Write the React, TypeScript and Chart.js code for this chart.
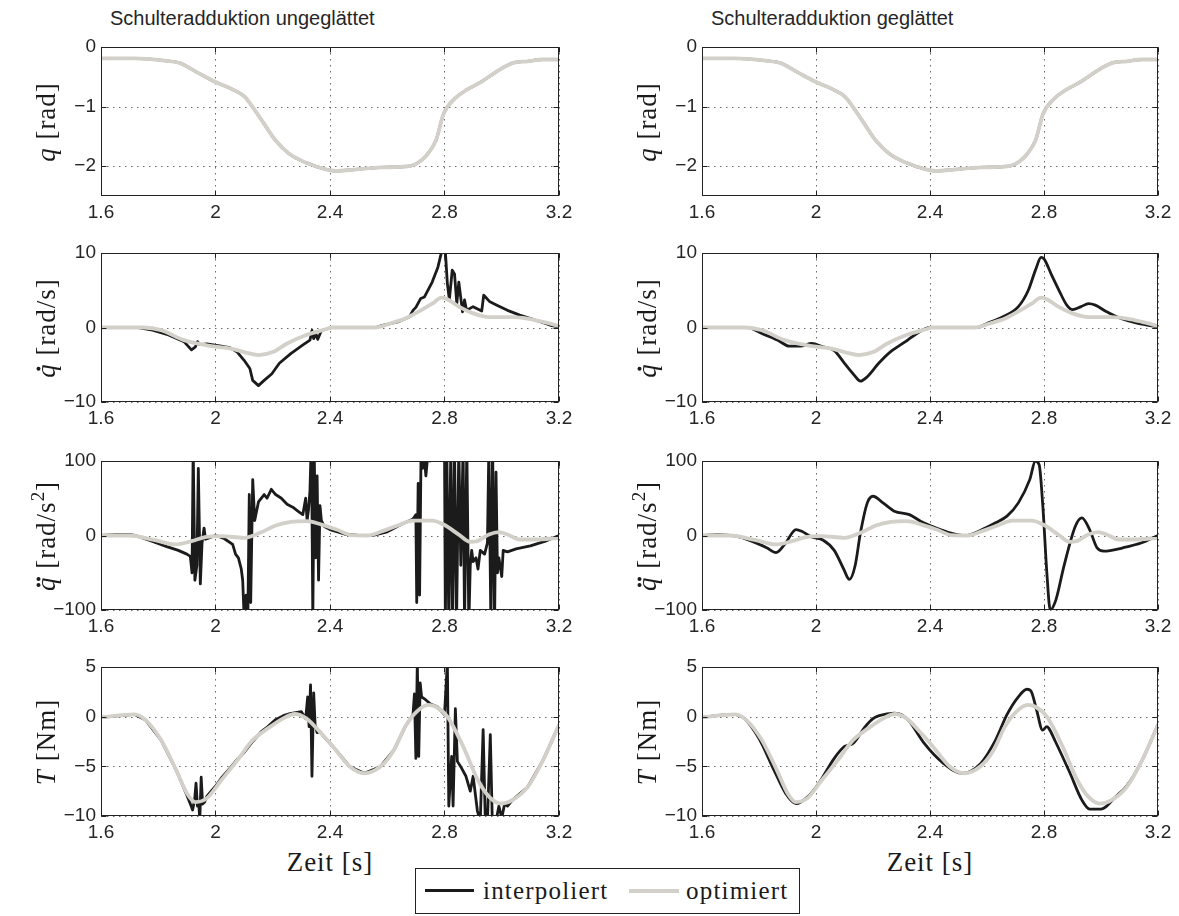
import React, { useEffect, useRef } from "react";
import { Chart, registerables } from "chart.js";

Chart.register(...registerables);

// ---------------- data ----------------
const X_TICKS = [1.6, 2, 2.4, 2.8, 3.2];
const Q_TICKS = [-2, -1, 0];
const DQ_TICKS = [-10, 0, 10];
const DDQ_TICKS = [-100, 0, 100];
const T_TICKS = [-10, -5, 0, 5];

const TITLES = ["Schulteradduktion ungeglättet", "Schulteradduktion geglättet"];
const LEGEND_LABELS = ["interpoliert", "optimiert"];
const X_LABEL = "Zeit [s]";

// joint angle q (both panels, both series coincide)
const Q_T = [1.6, 1.716, 1.823, 1.876, 1.93, 1.996, 2.063, 2.103, 2.13, 2.17, 2.21, 2.26, 2.316, 2.383, 2.42, 2.477, 2.58, 2.677, 2.717, 2.74, 2.77, 2.797, 2.837, 2.877, 2.93, 2.983, 3.037, 3.09, 3.144, 3.2];
const Q_VAL = [-0.19, -0.19, -0.23, -0.27, -0.41, -0.58, -0.72, -0.84, -1.01, -1.29, -1.57, -1.8, -1.94, -2.05, -2.08, -2.06, -2.02, -2.0, -1.91, -1.8, -1.57, -1.12, -0.86, -0.72, -0.58, -0.41, -0.27, -0.24, -0.21, -0.21];

// velocity, optimiert
const DQ_OPT_T = [1.6, 1.75, 1.81, 1.89, 1.97, 2.05, 2.1, 2.15, 2.2, 2.25, 2.317, 2.383, 2.41, 2.557, 2.61, 2.663, 2.717, 2.757, 2.79, 2.81, 2.85, 2.9, 2.957, 3.037, 3.09, 3.144, 3.2];
const DQ_OPT = [0, 0, -0.36, -1.7, -2.4, -2.8, -3.3, -3.7, -3.3, -2.15, -1.0, -0.27, 0, 0, 0.54, 1.2, 2.3, 3.2, 4.0, 3.8, 2.8, 1.9, 1.4, 1.4, 1.2, 0.76, 0.2];
// velocity, interpoliert (ungeglättet)
const DQ_RAW_T = [1.6, 1.73, 1.78, 1.836, 1.89, 1.916, 1.93, 1.937, 1.945, 1.97, 2.02, 2.05, 2.076, 2.1, 2.12, 2.13, 2.15, 2.17, 2.197, 2.223, 2.263, 2.303, 2.33, 2.337, 2.343, 2.35, 2.357, 2.37, 2.397, 2.41, 2.56, 2.583, 2.637, 2.677, 2.69, 2.7, 2.717, 2.73, 2.757, 2.777, 2.79, 2.8, 2.81, 2.817, 2.827, 2.835, 2.843, 2.85, 2.863, 2.87, 2.877, 2.9, 2.93, 2.937, 2.943, 2.957, 2.983, 3.02, 3.063, 3.117, 3.17, 3.2];
const DQ_RAW = [0, 0, -0.36, -1.0, -1.9, -3.0, -2.6, -1.9, -2.3, -2.2, -2.5, -2.7, -3.3, -4.4, -5.5, -7.1, -7.8, -7.1, -6.2, -4.8, -3.5, -2.4, -1.7, -0.4, -1.5, -0.8, -1.6, -0.4, -0.1, 0, 0, 0.3, 0.76, 1.4, 2.3, 2.7, 3.9, 4.1, 6.1, 8.1, 10.2, 12, 5.9, 3.7, 7.7, 7.2, 3.2, 6.1, 2.1, 3.7, 2.3, 2.8, 2.2, 4.35, 4.1, 3.5, 3.0, 2.3, 1.66, 1.0, 0.3, 0.1];
// velocity, interpoliert (geglättet)
const DQ_SM_T = [1.6, 1.76, 1.81, 1.866, 1.906, 1.945, 1.985, 2.024, 2.064, 2.1, 2.13, 2.156, 2.18, 2.22, 2.26, 2.314, 2.354, 2.4, 2.565, 2.6, 2.654, 2.71, 2.745, 2.77, 2.79, 2.8, 2.826, 2.85, 2.88, 2.9, 2.93, 2.956, 2.98, 3.02, 3.07, 3.13, 3.2];
const DQ_SM = [0, 0, -0.8, -1.7, -2.5, -2.5, -2.15, -2.6, -3.1, -4.8, -6.2, -7.2, -6.6, -4.8, -3.3, -1.9, -0.8, 0, 0, 0.54, 1.4, 2.8, 5.0, 7.7, 9.4, 9.2, 7.1, 5.2, 3.0, 2.4, 2.8, 3.2, 3.0, 2.1, 1.2, 0.54, 0.1];

// acceleration, optimiert
const DDQ_OPT_T = [1.6, 1.7, 1.78, 1.86, 1.916, 1.97, 2.02, 2.1, 2.156, 2.21, 2.263, 2.317, 2.37, 2.423, 2.477, 2.53, 2.583, 2.637, 2.69, 2.757, 2.797, 2.85, 2.89, 2.915, 2.955, 2.99, 3.02, 3.063, 3.117, 3.2];
const DDQ_OPT = [0, 0, -5.4, -12, -7.6, -1.8, -0.9, -3.1, 3.6, 13.4, 18.3, 19.2, 14.7, 8, 0.4, 0, 5.8, 13.4, 20, 20, 14.7, 1.3, -8.5, -7.5, 1.3, 4.5, 1.3, -5.4, -5.4, -3.1];
// acceleration, interpoliert (ungeglättet)
const DDQ_RAW_T = [1.6, 1.65, 1.7, 1.72, 1.78, 1.83, 1.87, 1.9, 1.912, 1.918, 1.922, 1.928, 1.935, 1.94, 1.947, 1.953, 1.96, 1.965, 1.98, 2.0, 2.03, 2.06, 2.07, 2.08, 2.09, 2.095, 2.1, 2.107, 2.113, 2.118, 2.123, 2.13, 2.137, 2.15, 2.17, 2.18, 2.195, 2.21, 2.23, 2.25, 2.27, 2.29, 2.305, 2.315, 2.32, 2.325, 2.33, 2.335, 2.34, 2.345, 2.35, 2.355, 2.36, 2.365, 2.37, 2.38, 2.4, 2.45, 2.5, 2.55, 2.6, 2.65, 2.69, 2.7, 2.703, 2.708, 2.713, 2.718, 2.723, 2.728, 2.735, 2.742, 2.75, 2.76, 2.775, 2.8, 2.803, 2.808, 2.815, 2.822, 2.828, 2.835, 2.842, 2.85, 2.857, 2.865, 2.87, 2.878, 2.885, 2.89, 2.895, 2.9, 2.91, 2.917, 2.925, 2.94, 2.95, 2.955, 2.962, 2.968, 2.975, 2.98, 2.985, 2.99, 3.0, 3.005, 3.02, 3.05, 3.1, 3.15, 3.2];
const DDQ_RAW = [0, 1.3, 1.0, 0, -8, -15, -20, -25, -28, -50, 120, -60, -40, 90, -65, -10, 10, -5, -3, 0, -4, -12, -25, -30, -45, -60, -110, -80, -110, 55, -90, 75, 20, 45, 55, 50, 62, 55, 50, 42, 38, 32, 28, 50, 20, 35, 60, 130, -110, 110, -30, 80, -60, 40, 20, 12, 8, 2, 0, 0, 5, 15, 22, 28, -90, 70, -80, 110, 90, 110, 80, 110, 100, 110, 105, 120, -120, 120, -120, 120, -120, 120, -120, 120, -40, 120, -120, 120, -120, -40, -20, -35, -30, -45, -20, -25, -10, 120, -120, 120, -120, 85, -50, -30, -55, -20, -22, -18, -14, -8, 0];
// acceleration, interpoliert (geglättet)
const DDQ_SM_T = [1.6, 1.655, 1.72, 1.774, 1.827, 1.86, 1.89, 1.93, 1.95, 1.985, 2.024, 2.064, 2.097, 2.117, 2.137, 2.156, 2.18, 2.2, 2.235, 2.275, 2.328, 2.367, 2.42, 2.47, 2.525, 2.578, 2.63, 2.67, 2.71, 2.75, 2.77, 2.783, 2.796, 2.81, 2.822, 2.842, 2.87, 2.91, 2.933, 2.96, 2.986, 3.01, 3.077, 3.143, 3.2];
const DDQ_SM = [0, 1.3, -1, -7.6, -16.5, -23, -12, 8, 5.8, -2, -6, -20, -45, -59, -41, 3.6, 43.8, 52.7, 43.8, 32.6, 28, 19.2, 10.3, 3.6, 0, 7, 17, 26, 43.8, 75, 100, 95, 39, -50, -100, -86, -41, 12.5, 23.7, 8, -16.5, -21, -16.5, -9.8, 0];

// torque, optimiert
const T_OPT_T = [1.6, 1.716, 1.756, 1.81, 1.863, 1.9, 1.93, 1.97, 2.02, 2.076, 2.13, 2.183, 2.237, 2.277, 2.317, 2.37, 2.41, 2.47, 2.52, 2.575, 2.623, 2.663, 2.703, 2.743, 2.77, 2.81, 2.863, 2.917, 2.957, 2.997, 3.037, 3.09, 3.144, 3.2];
const T_OPT = [-0.07, 0.24, -0.34, -2.36, -5.4, -7.7, -8.6, -8.2, -6.4, -4.4, -2.36, -1.18, -0.17, 0.27, -0.17, -1.7, -3.0, -5.05, -5.7, -5.05, -3.37, -1.0, 0.5, 1.18, 1.0, 0, -2.86, -6.4, -8.1, -8.75, -8.4, -7.1, -4.4, -0.84];
// torque, interpoliert (ungeglättet)
const T_RAW_T = [1.6, 1.716, 1.756, 1.81, 1.863, 1.9, 1.915, 1.92, 1.927, 1.932, 1.937, 1.942, 1.945, 1.95, 1.955, 1.962, 1.97, 2.0, 2.02, 2.05, 2.076, 2.1, 2.13, 2.16, 2.183, 2.21, 2.237, 2.26, 2.28, 2.3, 2.315, 2.322, 2.327, 2.332, 2.337, 2.343, 2.348, 2.355, 2.365, 2.375, 2.41, 2.47, 2.52, 2.575, 2.623, 2.663, 2.69, 2.695, 2.7, 2.705, 2.71, 2.715, 2.72, 2.73, 2.75, 2.775, 2.8, 2.81, 2.815, 2.825, 2.83, 2.838, 2.845, 2.86, 2.875, 2.89, 2.9, 2.915, 2.925, 2.935, 2.942, 2.95, 2.96, 2.967, 2.98, 2.99, 3.0, 3.01, 3.02, 3.037, 3.09, 3.144, 3.2];
const T_RAW = [-0.07, 0.24, -0.34, -2.36, -5.4, -7.9, -9.0, -9.4, -8.4, -6.7, -9.0, -8.8, -10.5, -6.1, -8.8, -8.6, -8.0, -7.0, -6.2, -5.2, -4.3, -3.6, -2.5, -1.5, -1.0, -0.3, 0.1, 0.3, 0.4, 0.5, -0.2, 2.0, -1.0, 3.2, -6.0, 2.4, -0.8, -1.6, -1.5, -1.9, -3.0, -5.05, -5.7, -5.05, -3.37, -1.0, 0.2, 2.3, -4.2, 5.5, -4.0, 3.4, 2.0, 1.8, 1.3, 1.0, 0.2, 5.5, -9.0, -4.0, -9.0, 0.8, -4.5, -5.2, -6.0, -7.5, -6.0, -9.5, -10.5, -1.3, -9.8, -10.5, -1.8, -10.5, -10.5, -9.0, -10.2, -8.8, -9.0, -8.4, -7.1, -4.4, -0.84];
// torque, interpoliert (geglättet)
const T_SM_T = [1.6, 1.708, 1.748, 1.8, 1.853, 1.893, 1.93, 1.97, 2.01, 2.064, 2.1, 2.13, 2.17, 2.2, 2.222, 2.275, 2.3, 2.328, 2.38, 2.447, 2.512, 2.578, 2.63, 2.67, 2.71, 2.74, 2.754, 2.774, 2.795, 2.81, 2.817, 2.84, 2.89, 2.933, 2.96, 3.0, 3.02, 3.05, 3.09, 3.144, 3.2];
const T_SM = [-0.07, 0.24, -0.17, -2.2, -5.4, -7.7, -8.75, -8.1, -6.7, -4.2, -3.0, -2.7, -1.1, -0.2, 0.1, 0.35, 0.2, -0.5, -2.7, -4.7, -5.7, -4.7, -2.36, 0.2, 2.0, 2.76, 2.6, 0.67, -1.35, -1.0, -1.18, -2.5, -5.6, -8.4, -9.3, -9.3, -9.0, -8.1, -7.0, -4.4, -0.8];

// ---------------- styling / layout ----------------
const INT_COLOR = "#1b1b1b";
const OPT_COLOR = "#d3d0c9";
const TICK_FONT = '"Liberation Sans", Arial, Helvetica, sans-serif';
const LABEL_FONT = '"Liberation Serif", "Times New Roman", serif';

const COL_X = [101, 702];
const COL_W = [458, 456];
const ROW_Y = [47, 253, 461, 667];
const PLOT_H = 149;
const PAD_L = 60, PAD_T = 12, PAD_R = 20, PAD_B = 30;

const fmt = (v: number) => String(Number(v.toFixed(4))).replace("-", "\u2212");
const pts = (t: number[], v: number[]) => t.map((x, i) => ({ x, y: v[i] }));

const matlabAxes = {
  id: "matlabAxes",
  beforeDatasetsDraw(chart: any) {
    const { ctx, chartArea: a, scales } = chart;
    const x = scales.x, y = scales.y;
    ctx.save();
    ctx.strokeStyle = "rgba(70,70,70,0.8)";
    ctx.lineWidth = 1;
    ctx.setLineDash([1.5, 4.5]);
    ctx.beginPath();
    x.ticks.forEach((t: any) => {
      const px = Math.round(x.getPixelForValue(t.value)) + 0.5;
      ctx.moveTo(px, a.top);
      ctx.lineTo(px, a.bottom);
    });
    y.ticks.forEach((t: any) => {
      const py = Math.round(y.getPixelForValue(t.value)) + 0.5;
      ctx.moveTo(a.left, py);
      ctx.lineTo(a.right, py);
    });
    ctx.stroke();
    ctx.restore();
  },
  afterDraw(chart: any) {
    const { ctx, chartArea: a, scales } = chart;
    const x = scales.x, y = scales.y;
    const L = Math.round(a.left) + 0.5, R = Math.round(a.right) - 0.5;
    const T = Math.round(a.top) + 0.5, B = Math.round(a.bottom) - 0.5;
    ctx.save();
    ctx.strokeStyle = "#222";
    ctx.lineWidth = 1;
    ctx.setLineDash([]);
    ctx.strokeRect(L, T, R - L, B - T);
    ctx.beginPath();
    x.ticks.forEach((t: any) => {
      const px = Math.round(x.getPixelForValue(t.value)) + 0.5;
      ctx.moveTo(px, B); ctx.lineTo(px, B - 5);
      ctx.moveTo(px, T); ctx.lineTo(px, T + 5);
    });
    y.ticks.forEach((t: any) => {
      const py = Math.round(y.getPixelForValue(t.value)) + 0.5;
      ctx.moveTo(L, py); ctx.lineTo(L + 5, py);
      ctx.moveTo(R, py); ctx.lineTo(R - 5, py);
    });
    ctx.stroke();
    ctx.restore();
  },
};

type PanelDef = {
  row: number; col: number; yMin: number; yMax: number; yTicks: number[];
  optT: number[]; optV: number[]; intT: number[]; intV: number[]; raw: boolean;
};

const PANELS: PanelDef[] = [
  { row: 0, col: 0, yMin: -2.5, yMax: 0, yTicks: Q_TICKS, optT: Q_T, optV: Q_VAL, intT: Q_T, intV: Q_VAL, raw: false },
  { row: 0, col: 1, yMin: -2.5, yMax: 0, yTicks: Q_TICKS, optT: Q_T, optV: Q_VAL, intT: Q_T, intV: Q_VAL, raw: false },
  { row: 1, col: 0, yMin: -10, yMax: 10, yTicks: DQ_TICKS, optT: DQ_OPT_T, optV: DQ_OPT, intT: DQ_RAW_T, intV: DQ_RAW, raw: true },
  { row: 1, col: 1, yMin: -10, yMax: 10, yTicks: DQ_TICKS, optT: DQ_OPT_T, optV: DQ_OPT, intT: DQ_SM_T, intV: DQ_SM, raw: false },
  { row: 2, col: 0, yMin: -100, yMax: 100, yTicks: DDQ_TICKS, optT: DDQ_OPT_T, optV: DDQ_OPT, intT: DDQ_RAW_T, intV: DDQ_RAW, raw: true },
  { row: 2, col: 1, yMin: -100, yMax: 100, yTicks: DDQ_TICKS, optT: DDQ_OPT_T, optV: DDQ_OPT, intT: DDQ_SM_T, intV: DDQ_SM, raw: false },
  { row: 3, col: 0, yMin: -10, yMax: 5, yTicks: T_TICKS, optT: T_OPT_T, optV: T_OPT, intT: T_RAW_T, intV: T_RAW, raw: true },
  { row: 3, col: 1, yMin: -10, yMax: 5, yTicks: T_TICKS, optT: T_OPT_T, optV: T_OPT, intT: T_SM_T, intV: T_SM, raw: false },
];

function Panel({ p }: { p: PanelDef }) {
  const ref = useRef<HTMLCanvasElement>(null);
  const W = COL_W[p.col] + PAD_L + PAD_R;
  const H = PLOT_H + PAD_T + PAD_B;
  useEffect(() => {
    const tickFont = { family: TICK_FONT, size: 19 };
    const chart = new Chart(ref.current as HTMLCanvasElement, {
      type: "line",
      data: {
        datasets: [
          {
            label: LEGEND_LABELS[1],
            data: pts(p.optT, p.optV),
            borderColor: OPT_COLOR,
            borderWidth: 3.8,
            pointRadius: 0,
            cubicInterpolationMode: "monotone",
            borderJoinStyle: "round",
            borderCapStyle: "round",
            order: 0,
          },
          {
            label: LEGEND_LABELS[0],
            data: pts(p.intT, p.intV),
            borderColor: INT_COLOR,
            borderWidth: 2.8,
            pointRadius: 0,
            tension: 0,
            cubicInterpolationMode: p.raw ? "default" : "monotone",
            borderJoinStyle: "round",
            borderCapStyle: "round",
            order: 1,
          },
        ],
      } as any,
      options: {
        animation: false,
        responsive: false,
        maintainAspectRatio: false,
        events: [],
        layout: { padding: { top: PAD_T, right: PAD_R, left: 0, bottom: 0 } },
        plugins: { legend: { display: false }, tooltip: { enabled: false }, title: { display: false } },
        scales: {
          x: {
            type: "linear",
            min: 1.6,
            max: 3.2,
            afterBuildTicks: (s: any) => { s.ticks = X_TICKS.map((v) => ({ value: v })); },
            afterFit: (s: any) => { s.height = PAD_B; s.paddingLeft = 0; s.paddingRight = 0; },
            grid: { display: false, drawTicks: false, tickLength: 0 },
            border: { display: false },
            ticks: { callback: (v: any) => fmt(Number(v)), font: tickFont, color: "#262626", padding: 5, maxRotation: 0, autoSkip: false },
          },
          y: {
            type: "linear",
            min: p.yMin,
            max: p.yMax,
            afterBuildTicks: (s: any) => { s.ticks = p.yTicks.map((v) => ({ value: v })); },
            afterFit: (s: any) => { s.width = PAD_L; s.paddingTop = 0; s.paddingBottom = 0; },
            grid: { display: false, drawTicks: false, tickLength: 0 },
            border: { display: false },
            ticks: { callback: (v: any) => fmt(Number(v)), font: tickFont, color: "#262626", padding: 5, autoSkip: false },
          },
        },
      } as any,
      plugins: [matlabAxes],
    });
    return () => chart.destroy();
  }, []);
  return (
    <canvas
      ref={ref}
      width={W}
      height={H}
      style={{ position: "absolute", left: COL_X[p.col] - PAD_L, top: ROW_Y[p.row] - PAD_T, width: W, height: H }}
    />
  );
}

const QDots = ({ n }: { n: number }) => (
  <span style={{ position: "relative", display: "inline-block" }}>
    <i>q</i>
    {(n === 1 ? [0.26] : [0.15, 0.38]).map((l, k) => (
      <span
        key={k}
        style={{ position: "absolute", left: l + "em", top: "0.15em", width: 4, height: 4, borderRadius: 2, background: "#1a1a1a" }}
      />
    ))}
  </span>
);

const Y_LABELS = [
  <><i>q</i>{"\u00A0"}[rad]</>,
  <><QDots n={1} />{"\u00A0"}[rad/s]</>,
  <><QDots n={2} />{"\u00A0"}[rad/s<sup style={{ fontSize: "0.7em", verticalAlign: "0.55em", lineHeight: 0 }}>2</sup>]</>,
  <><i>T</i>{"\u00A0"}[Nm]</>,
];

function YLabel({ cx, cy, children }: { cx: number; cy: number; children: React.ReactNode }) {
  return (
    <div
      style={{
        position: "absolute", left: cx, top: cy,
        transform: "translate(-50%, -50%) rotate(-90deg)",
        fontFamily: LABEL_FONT, fontSize: 27, letterSpacing: 1, lineHeight: 1,
        whiteSpace: "nowrap", color: "#1a1a1a",
      }}
    >
      {children}
    </div>
  );
}

export default function App() {
  return (
    <div style={{ position: "absolute", left: 0, top: 0, width: 1179, height: 916, overflow: "hidden", background: "#fff" }}>
      {PANELS.map((p, i) => <Panel key={i} p={p} />)}
      {TITLES.map((t, c) => (
        <div key={"t" + c} style={{ position: "absolute", left: COL_X[c] + 9, top: 8, fontFamily: TICK_FONT, fontSize: 20, lineHeight: "20px", color: "#262626", whiteSpace: "nowrap" }}>{t}</div>
      ))}
      {[0, 1].map((c) =>
        ROW_Y.map((ry, r) => (
          <YLabel key={"y" + c + r} cx={COL_X[c] - 55} cy={ry + PLOT_H / 2}>{Y_LABELS[r]}</YLabel>
        ))
      )}
      {[0, 1].map((c) => (
        <div key={"x" + c} style={{ position: "absolute", left: COL_X[c] + COL_W[c] / 2, top: 862, transform: "translate(-50%, -50%)", fontFamily: LABEL_FONT, fontSize: 27, letterSpacing: 1, lineHeight: 1, whiteSpace: "nowrap", color: "#1a1a1a" }}>{X_LABEL}</div>
      ))}
      <div style={{ position: "absolute", left: 415, top: 868, width: 385, height: 46, border: "1px solid #222", boxSizing: "border-box", background: "#fff", fontFamily: LABEL_FONT, fontSize: 25, letterSpacing: 1.2, color: "#1a1a1a" }}>
        <div style={{ position: "absolute", left: 9, top: 20, width: 49, height: 3, background: INT_COLOR }} />
        <div style={{ position: "absolute", left: 67, top: 7, lineHeight: "30px", whiteSpace: "nowrap" }}>{LEGEND_LABELS[0]}</div>
        <div style={{ position: "absolute", left: 213, top: 20, width: 50, height: 3.5, background: OPT_COLOR }} />
        <div style={{ position: "absolute", left: 270, top: 7, lineHeight: "30px", whiteSpace: "nowrap" }}>{LEGEND_LABELS[1]}</div>
      </div>
    </div>
  );
}
